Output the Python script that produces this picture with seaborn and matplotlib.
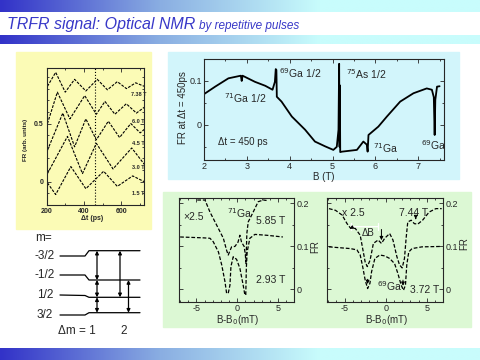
import matplotlib
matplotlib.use("Agg")
import matplotlib.pyplot as plt
from matplotlib.patches import Rectangle
from matplotlib.colors import LinearSegmentedColormap
from matplotlib.ticker import MultipleLocator
import numpy as np
import seaborn as sns

sns.set_style("ticks")
plt.rcParams['font.family'] = ['Liberation Sans', 'DejaVu Sans']
plt.rcParams['xtick.direction'] = 'in'
plt.rcParams['ytick.direction'] = 'in'

# ---- panel 1: TRFR traces vs delay (arb. units) ----
fields_1 = ["7.38 T", "6.0 T", "4.5 T", "3.0 T", "1.5 T"]
t_738 = [205, 249, 300, 350, 410, 471, 525, 578, 627, 676, 722]
fr_738 = [0.82, 0.94, 0.77, 0.88, 0.78, 0.88, 0.79, 0.86, 0.80, 0.85, 0.82]
t_60 = [205, 258, 325, 404, 466, 512, 565, 626, 680, 722]
fr_60 = [0.50, 0.77, 0.54, 0.74, 0.58, 0.69, 0.58, 0.67, 0.59, 0.64]
t_45 = [205, 287, 350, 410, 466, 530, 590, 650, 700, 722]
fr_45 = [0.27, 0.59, 0.30, 0.54, 0.36, 0.52, 0.38, 0.50, 0.42, 0.45]
t_30 = [205, 312, 392, 466, 555, 655, 722]
fr_30 = [0.07, 0.39, 0.07, 0.33, 0.11, 0.29, 0.15]
t_15 = [205, 249, 330, 410, 505, 578, 660, 722]
fr_15 = [-0.01, -0.11, 0.13, -0.06, 0.09, -0.04, 0.05, 0.00]
delay_mark = 458

# ---- panel 2: FR at dt = 450 ps vs field ----
field_b = [2.00, 2.26, 2.57, 2.86, 2.88, 2.90, 3.19, 3.43, 3.60, 3.655, 3.675, 3.69, 3.70, 3.81,
           4.05, 4.36, 4.59, 4.83, 5.02, 5.10, 5.14, 5.155, 5.165, 5.172, 5.18, 5.22, 5.57,
           5.72, 5.80, 5.82, 5.84, 6.07, 6.27, 6.58, 6.89, 7.20, 7.32, 7.365, 7.385, 7.40,
           7.44, 7.50]
fr_450 = [0.070, 0.087, 0.106, 0.112, 0.100, 0.112, 0.098, 0.089, 0.080, 0.098, 0.127, 0.125,
          0.064, 0.053, 0.019, -0.011, -0.038, -0.049, -0.057, -0.050, -0.011, 0.139, -0.050,
          0.090, -0.062, -0.061, -0.057, -0.038, -0.045, -0.061, -0.023, -0.004, 0.019, 0.053,
          0.072, 0.083, 0.080, 0.063, -0.023, 0.057, 0.087, 0.088]

# ---- panel 3: 71Ga lines ----
b3_hi = [-4.9, -3.95, -3.34, -2.53, -1.7, -1.3, -1.1, -0.69, -0.28, 0.1, 0.33, 0.53, 0.85,
         1.0, 1.08, 1.18, 1.35, 1.96, 2.57, 3.2, 3.6]
fr3_hi = [0.208, 0.208, 0.180, 0.150, 0.119, 0.091, 0.080, 0.099, 0.100, 0.110, 0.126, 0.110,
          0.100, 0.080, 0.060, 0.130, 0.157, 0.180, 0.204, 0.208, 0.207]
b3_lo = [-7.0, -4.16, -3.34, -2.94, -2.3, -1.9, -1.5, -1.3, -1.1, -0.89, -0.77, -0.49, -0.08,
         0.33, 0.73, 0.94, 1.05, 1.12, 1.22, 1.55, 2.17, 3.6, 5.6]
fr3_lo = [0.122, 0.120, 0.119, 0.111, 0.087, 0.057, 0.018, -0.009, -0.009, 0.010, 0.053, 0.076,
          0.070, 0.049, 0.010, -0.013, -0.013, 0.050, 0.087, 0.119, 0.128, 0.126, 0.122]

# ---- panel 4: 69Ga lines ----
b4_hi = [-6.9, -6.1, -5.3, -4.7, -4.3, -3.7, -3.1, -2.8, -2.5, -2.24, -1.9, -1.5, -0.92, -0.52,
         -0.12, 0.48, 0.88, 1.36, 1.68, 2.0, 2.28, 2.48, 2.68, 3.1, 3.48, 3.9, 4.48, 5.28, 6.1, 6.8]
fr4_hi = [0.188, 0.184, 0.173, 0.153, 0.143, 0.142, 0.126, 0.095, 0.064, 0.053, 0.068, 0.107,
          0.115, 0.107, 0.119, 0.130, 0.115, 0.076, 0.057, 0.050, 0.072, 0.119, 0.157, 0.161,
          0.153, 0.152, 0.161, 0.180, 0.188, 0.188]
b4_lo = [-6.9, -4.3, -3.5, -3.1, -2.8, -2.5, -2.2, -1.92, -1.72, -1.32, -0.72, -0.12, 0.48,
         1.08, 1.48, 1.88, 2.16, 2.4, 2.56, 2.8, 3.2, 4.4, 6.8]
fr4_lo = [0.099, 0.095, 0.092, 0.080, 0.053, 0.022, 0.002, 0.014, 0.041, 0.072, 0.080, 0.078,
          0.072, 0.060, 0.037, 0.010, -0.002, 0.010, 0.057, 0.087, 0.095, 0.099, 0.100]

# ---- level diagram ----
levels = ["-3/2", "-1/2", "1/2", "3/2"]
level_y = [[256, 256, 250.7, 250.7], [275, 275, 280, 280], [295, 295.5, 297.3, 297.3],
           [315, 315, 312.7, 312.7]]

W, H = 480, 360
fig = plt.figure(figsize=(4.8, 3.6), dpi=100)

bg = fig.add_axes([0, 0, 1, 1])
bg.axis('off')

bar_cmap = LinearSegmentedColormap.from_list('bar', ['#3232c8', '#8aaee2', '#c8fcfc', '#c8fcfc'])
grad = np.linspace(0, 1, 256).reshape(1, -1)
for y0, y1 in [(0, 12), (35, 44), (348, 360)]:
    bg.imshow(grad, extent=(0, W, y1, y0), aspect='auto', cmap=bar_cmap)
bg.set_xlim(0, W)
bg.set_ylim(H, 0)

bg.text(7, 29.5, "TRFR signal: Optical NMR", fontsize=11.5, style='italic', color='#3838c8')
bg.text(199, 29.5, "by repetitive pulses", fontsize=8.5, style='italic', color='#3838c8')

bg.add_patch(Rectangle((16, 52), 135, 177, color='#fbfbb6', zorder=0))
bg.add_patch(Rectangle((168, 52), 291, 127, color='#d2f5fb', zorder=0))
bg.add_patch(Rectangle((163, 192), 308, 135, color='#dcf8d4', zorder=0))


def px_axes(x0, y0, x1, y1):
    ax = fig.add_axes([x0 / W, 1 - y1 / H, (x1 - x0) / W, (y1 - y0) / H])
    ax.set_facecolor('none')
    for s in ax.spines.values():
        s.set_linewidth(0.8)
    ax.tick_params(which='both', top=True, right=True, width=0.6)
    ax.tick_params(which='major', length=3)
    ax.tick_params(which='minor', length=1.5)
    return ax


# panel 1
ax1 = px_axes(46.5, 67.7, 144.3, 205)
for t, fr in [(t_738, fr_738), (t_60, fr_60), (t_45, fr_45), (t_30, fr_30), (t_15, fr_15)]:
    sns.lineplot(x=t, y=fr, ax=ax1, color='k', lw=0.8, linestyle=(0, (2.5, 1.2)),
                 estimator=None, sort=False)
ax1.axvline(delay_mark, ls=':', lw=0.8, color='k')
ax1.set_xlim(200, 722)
ax1.set_ylim(-0.2, 0.98)
ax1.set_xticks([200, 400, 600], ["200", "400", "600"])
ax1.xaxis.set_minor_locator(MultipleLocator(100))
ax1.set_yticks([0, 0.5], ["0", "0.5"])
ax1.yaxis.set_minor_locator(MultipleLocator(0.1))
ax1.tick_params(labelsize=5, pad=2)
for lab in ax1.get_xticklabels() + ax1.get_yticklabels():
    lab.set_fontweight('bold')
label_y1 = [0.75, 0.52, 0.33, 0.12, -0.10]
for name, ly in zip(fields_1, label_y1):
    ax1.text(690, ly, name, fontsize=4, ha='center', va='center', fontweight='bold')
bg.text(25, 140, "FR (arb. units)", fontsize=4.5, rotation=90, ha='center', va='center',
        fontweight='bold')
bg.text(92, 218.5, "Δt (ps)", fontsize=5, ha='center', va='center', fontweight='bold')

# panel 2
ax2 = px_axes(204, 59, 444.3, 160)
sns.lineplot(x=field_b, y=fr_450, ax=ax2, color='k', lw=1.3, estimator=None, sort=False)
ax2.set_xlim(2, 7.61)
ax2.set_ylim(-0.08, 0.15)
ax2.xaxis.set_major_locator(MultipleLocator(1))
ax2.xaxis.set_minor_locator(MultipleLocator(0.5))
ax2.set_yticks([0, 0.1], ["0", "0.1"])
ax2.yaxis.set_minor_locator(MultipleLocator(0.05))
ax2.tick_params(labelsize=6.5, pad=1.5)
ax2.text(2.47, 0.062, "$^{71}$Ga 1/2", fontsize=7.5, va='center')
ax2.text(3.74, 0.117, "$^{69}$Ga 1/2", fontsize=7.5, va='center')
ax2.text(5.32, 0.115, "$^{75}$As 1/2", fontsize=7.5, va='center')
ax2.text(5.94, -0.053, "$^{71}$Ga", fontsize=7.5, va='center')
ax2.text(7.06, -0.046, "$^{69}$Ga", fontsize=7.5, va='center')
ax2.text(2.33, -0.040, "Δt = 450 ps", fontsize=7, va='center')
bg.text(183, 108, "FR at Δt = 450ps", fontsize=7, rotation=90, ha='center', va='center')
bg.text(324, 176.5, "B (T)", fontsize=7, ha='center', va='center')


def nmr_axes(x0, x1):
    ax = px_axes(x0, 198.3, x1, 302.3)
    ax.set_xlim(-7.1, 7.0)
    ax.set_ylim(-0.03, 0.212)
    ax.set_xticks([-5, 0, 5], ["-5", "0", "5"])
    ax.xaxis.set_minor_locator(MultipleLocator(1))
    ax.set_yticks([0, 0.1, 0.2], ["0", "0.1", "0.2"])
    ax.yaxis.set_minor_locator(MultipleLocator(0.05))
    ax.tick_params(labelsize=6.5, pad=1.5, labelleft=False, labelright=True)
    return ax


dash = (0, (3, 1.5))
# panel 3
ax3 = nmr_axes(179.3, 294.3)
sns.lineplot(x=b3_hi, y=fr3_hi, ax=ax3, color='k', lw=0.9, linestyle=dash, estimator=None, sort=False)
sns.lineplot(x=b3_lo, y=fr3_lo, ax=ax3, color='k', lw=0.9, linestyle=dash, estimator=None, sort=False)
ax3.text(-6.6, 0.169, "×2.5", fontsize=7.5, va='center')
ax3.text(-1.2, 0.177, "$^{71}$Ga", fontsize=7.5, va='center')
ax3.text(2.35, 0.160, "5.85 T", fontsize=7.5, va='center')
ax3.text(2.35, 0.023, "2.93 T", fontsize=7.5, va='center')
bg.text(315, 247, "FR", fontsize=7, rotation=90, ha='center', va='center')
bg.text(237, 320, "B-B$_0$(mT)", fontsize=7, ha='center', va='center')

# panel 4
ax4 = nmr_axes(327.3, 443.3)
sns.lineplot(x=b4_hi, y=fr4_hi, ax=ax4, color='k', lw=0.9, linestyle=dash, estimator=None, sort=False)
sns.lineplot(x=b4_lo, y=fr4_lo, ax=ax4, color='k', lw=0.9, linestyle=dash, estimator=None, sort=False)
ax4.text(-5.3, 0.178, "x 2.5", fontsize=7.5, va='center')
ax4.text(1.6, 0.177, "7.44 T", fontsize=7.5, va='center')
ax4.text(-2.9, 0.132, "ΔB", fontsize=7, va='center')
ax4.text(-1.1, 0.008, "$^{69}$Ga", fontsize=7.5, va='center')
ax4.text(2.96, -0.002, "3.72 T", fontsize=7.5, va='center')
ax4.annotate("", xy=(-0.6, 0.146), xytext=(-4.5, 0.146),
             arrowprops=dict(arrowstyle='|-|', lw=0.9, mutation_scale=2.5))
ax4.annotate("", xy=(-4.4, 0.141), xytext=(-3.9, 0.146),
             arrowprops=dict(arrowstyle='-|>', lw=0.7, mutation_scale=5, color='k'))
ax4.annotate("", xy=(-0.52, 0.108), xytext=(-0.52, 0.146),
             arrowprops=dict(arrowstyle='-|>', lw=0.7, mutation_scale=5, color='k'))
ax4.annotate("", xy=(3.65, 0.157), xytext=(3.65, 0.172),
             arrowprops=dict(arrowstyle='-|>', lw=0.7, mutation_scale=5, color='k'))
ax4.annotate("", xy=(-2.2, 0.006), xytext=(-2.2, 0.03),
             arrowprops=dict(arrowstyle='-|>', lw=0.7, mutation_scale=5, color='k'))
ax4.annotate("", xy=(2.1, 0.002), xytext=(2.1, 0.028),
             arrowprops=dict(arrowstyle='-|>', lw=0.7, mutation_scale=5, color='k'))
bg.text(464, 244, "FR", fontsize=7, rotation=90, ha='center', va='center')
bg.text(386, 320, "B-B$_0$(mT)", fontsize=7, ha='center', va='center')

# level diagram
bg.text(35, 238, "m=", fontsize=8.5, va='center')
lx = [60, 85, 89, 140]
for name, ys in zip(levels, level_y):
    bg.plot(lx, ys, color='k', lw=0.9)
    bg.text(45, ys[0], name, fontsize=8.5, ha='center', va='center')
arrow_kw = dict(arrowstyle='<|-|>', lw=0.9, mutation_scale=5, color='k', shrinkA=0, shrinkB=0)
for x, ya, yb in [(97, 250.7, 280), (97, 280, 297.3), (97, 297.3, 312.7),
                  (120, 250.7, 297.3), (128.5, 280, 312.7)]:
    bg.annotate("", xy=(x, yb), xytext=(x, ya), arrowprops=arrow_kw)
bg.text(76.7, 331, "Δm = 1", fontsize=8.5, ha='center', va='center')
bg.text(124, 331, "2", fontsize=8.5, ha='center', va='center')

fig.savefig("out.png", dpi=100)
